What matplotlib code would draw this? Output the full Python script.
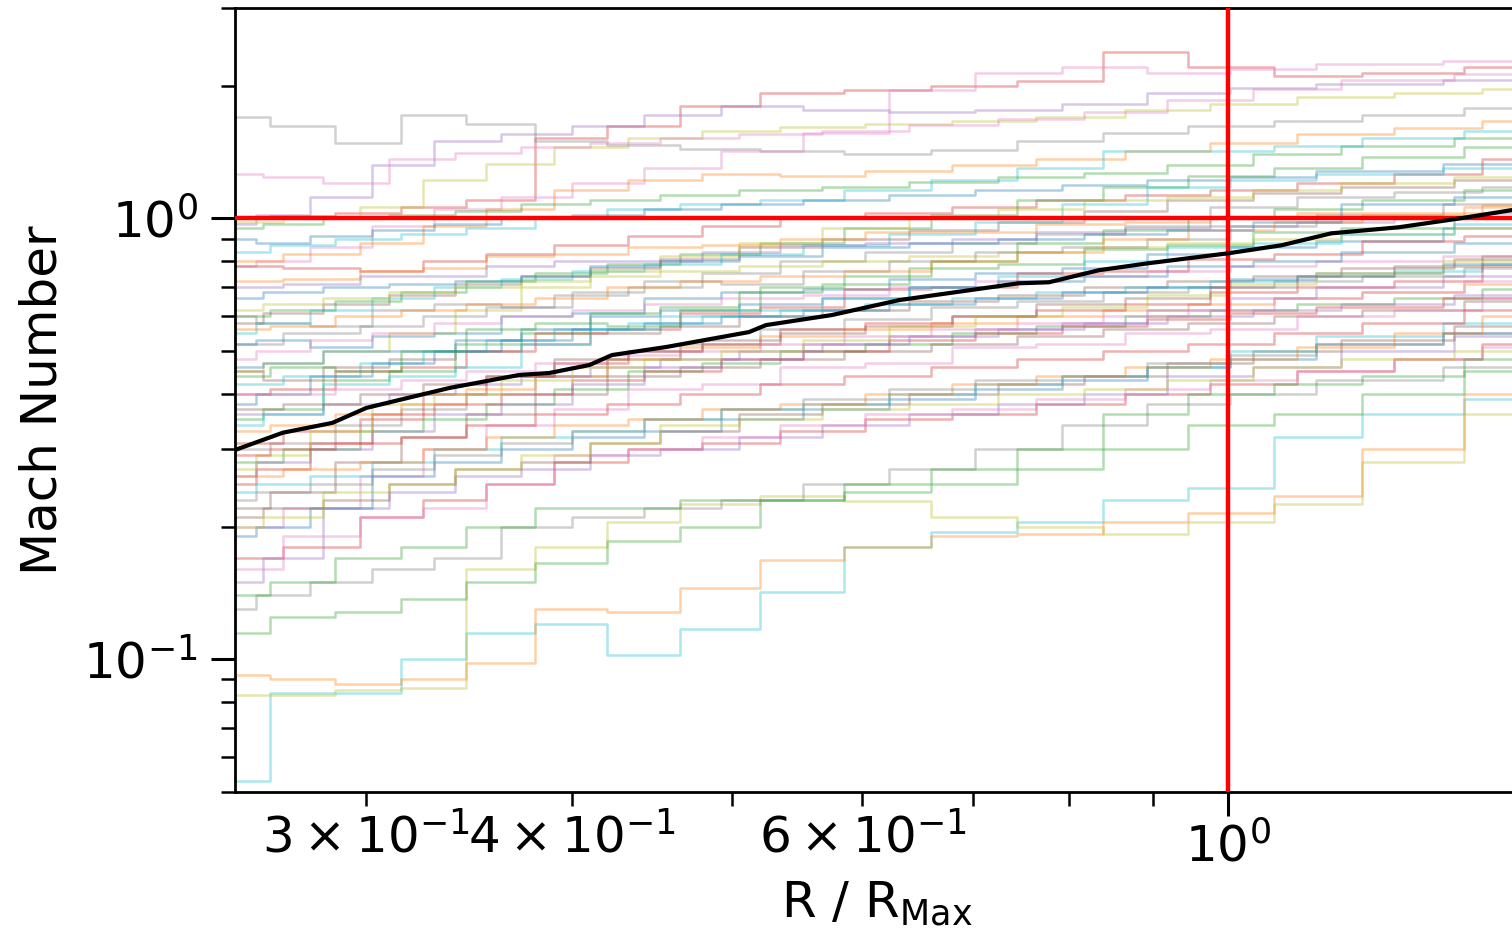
import matplotlib
matplotlib.use("Agg")
import matplotlib.pyplot as plt

# Radial sample positions (R / R_Max); runs were sampled on one of four grids
radius_grids = [
    [0.25, 0.275, 0.30, 0.33, 0.36, 0.40, 0.44, 0.49, 0.55, 0.62, 0.70, 0.79, 0.89, 1.00, 1.13, 1.28, 1.50],
    [0.25, 0.265, 0.29, 0.315, 0.345, 0.38, 0.42, 0.465, 0.52, 0.585, 0.66, 0.745, 0.84, 0.945, 1.06, 1.20, 1.50],
    [0.25, 0.285, 0.31, 0.34, 0.37, 0.41, 0.455, 0.505, 0.565, 0.64, 0.72, 0.81, 0.92, 1.03, 1.17, 1.35, 1.50],
    [0.25, 0.27, 0.295, 0.325, 0.355, 0.39, 0.43, 0.475, 0.535, 0.60, 0.68, 0.77, 0.865, 0.97, 1.10, 1.24, 1.50],
]

# Individual runs: fast group
runs_high = [
    [1.00, 1.01, 1.03, 1.06, 1.10, 1.52, 1.62, 1.80, 1.92, 1.96, 2.00, 2.05, 2.38, 2.20, 2.10, 2.14, 2.20],
    [0.97, 1.02, 1.12, 1.32, 1.50, 1.55, 1.62, 1.72, 1.80, 1.76, 1.74, 1.76, 1.82, 1.92, 1.98, 2.02, 2.06],
    [0.98, 1.00, 1.06, 1.22, 1.33, 1.45, 1.52, 1.58, 1.61, 1.64, 1.66, 1.70, 1.76, 1.82, 1.88, 1.92, 1.97],
    [1.70, 1.62, 1.48, 1.72, 1.64, 1.50, 1.47, 1.44, 1.42, 1.40, 1.43, 1.50, 1.56, 1.62, 1.66, 1.72, 1.78],
    [1.26, 1.24, 1.20, 1.36, 1.41, 1.45, 1.48, 1.52, 1.55, 1.58, 1.63, 1.68, 1.74, 1.86, 1.97, 2.06, 2.12],
    [0.78, 0.80, 0.86, 0.96, 1.05, 1.12, 1.20, 1.30, 1.42, 1.56, 1.96, 2.14, 2.20, 2.14, 2.18, 2.24, 2.28],
    [0.80, 0.83, 0.88, 0.96, 1.05, 1.16, 1.22, 1.26, 1.25, 1.28, 1.32, 1.36, 1.42, 1.48, 1.55, 1.60, 1.66],
    [0.95, 0.97, 1.00, 1.02, 1.04, 1.08, 1.10, 1.13, 1.16, 1.18, 1.21, 1.24, 1.27, 1.32, 1.40, 1.46, 1.52],
    [0.84, 0.87, 0.90, 0.92, 0.95, 1.00, 1.05, 1.08, 1.10, 1.16, 1.22, 1.30, 1.42, 1.42, 1.46, 1.52, 1.58],
    [0.90, 0.88, 0.91, 0.94, 0.97, 1.00, 1.02, 1.05, 1.08, 1.10, 1.13, 1.16, 1.19, 1.22, 1.24, 1.28, 1.33],
    [0.78, 0.77, 0.76, 0.80, 0.83, 0.87, 0.91, 0.96, 1.00, 1.03, 1.06, 1.10, 1.13, 1.16, 1.20, 1.26, 1.36],
    [0.58, 0.61, 0.64, 0.67, 0.71, 0.74, 0.77, 0.81, 0.86, 0.90, 0.94, 0.98, 1.04, 1.10, 1.14, 1.18, 1.22],
    [0.60, 0.62, 0.65, 0.68, 0.72, 0.75, 0.79, 0.83, 0.88, 0.95, 1.02, 1.10, 1.18, 1.25, 1.30, 1.38, 1.45],
    [0.55, 0.58, 0.62, 0.66, 0.70, 0.73, 0.76, 0.79, 0.83, 0.87, 0.92, 0.98, 1.08, 1.18, 1.22, 1.26, 1.30],
    [0.52, 0.55, 0.57, 0.60, 0.63, 0.67, 0.70, 0.75, 0.80, 0.84, 0.88, 0.92, 0.96, 1.06, 1.12, 1.15, 1.18],
    [0.45, 0.47, 0.50, 0.55, 0.62, 0.70, 0.76, 0.82, 0.88, 0.95, 1.00, 1.05, 1.10, 1.12, 1.16, 1.20, 1.24],
]
colors_high = [3, 4, 8, 7, 6, 6, 1, 2, 9, 0, 3, 5, 2, 9, 7, 8]
grids_high = [0, 1, 2, 0, 3, 1, 2, 3, 0, 1, 2, 3, 0, 1, 2, 3]

# Individual runs: intermediate group
runs_mid = [
    [0.52, 0.53, 0.51, 0.54, 0.55, 0.60, 0.61, 0.66, 0.68, 0.69, 0.73, 0.75, 0.77, 0.83, 0.86, 0.89, 0.95],
    [0.72, 0.73, 0.76, 0.77, 0.82, 0.83, 0.86, 0.87, 0.90, 0.93, 0.93, 0.97, 0.98, 1.00, 1.03, 1.03, 1.07],
    [0.35, 0.37, 0.43, 0.45, 0.52, 0.55, 0.61, 0.63, 0.68, 0.71, 0.77, 0.79, 0.85, 0.87, 0.93, 0.95, 1.00],
    [0.40, 0.41, 0.45, 0.46, 0.50, 0.55, 0.56, 0.61, 0.63, 0.69, 0.70, 0.75, 0.76, 0.81, 0.83, 0.89, 0.91],
    [0.70, 0.71, 0.74, 0.74, 0.78, 0.80, 0.80, 0.84, 0.87, 0.88, 0.90, 0.93, 0.95, 0.96, 0.98, 1.00, 1.03],
    [0.45, 0.43, 0.46, 0.48, 0.50, 0.52, 0.55, 0.57, 0.60, 0.62, 0.65, 0.67, 0.70, 0.72, 0.74, 0.77, 0.81],
    [0.48, 0.50, 0.53, 0.55, 0.58, 0.60, 0.62, 0.64, 0.66, 0.67, 0.70, 0.72, 0.74, 0.76, 0.78, 0.80, 0.82],
    [0.30, 0.31, 0.34, 0.37, 0.40, 0.44, 0.48, 0.52, 0.56, 0.59, 0.63, 0.65, 0.68, 0.70, 0.72, 0.74, 0.77],
    [0.62, 0.64, 0.66, 0.68, 0.70, 0.72, 0.74, 0.76, 0.78, 0.80, 0.82, 0.84, 0.86, 0.88, 0.90, 0.92, 0.95],
    [0.42, 0.44, 0.47, 0.50, 0.53, 0.56, 0.58, 0.60, 0.62, 0.64, 0.66, 0.68, 0.70, 0.72, 0.74, 0.76, 0.79],
    [0.38, 0.40, 0.44, 0.47, 0.50, 0.53, 0.56, 0.58, 0.60, 0.62, 0.64, 0.66, 0.68, 0.70, 0.73, 0.75, 0.79],
    [0.33, 0.34, 0.36, 0.38, 0.41, 0.44, 0.48, 0.51, 0.54, 0.56, 0.58, 0.60, 0.62, 0.64, 0.66, 0.68, 0.71],
    [0.28, 0.30, 0.33, 0.35, 0.38, 0.41, 0.45, 0.47, 0.50, 0.52, 0.55, 0.57, 0.60, 0.62, 0.64, 0.66, 0.69],
    [0.25, 0.27, 0.31, 0.36, 0.38, 0.40, 0.43, 0.45, 0.48, 0.50, 0.53, 0.55, 0.57, 0.59, 0.61, 0.63, 0.66],
    [0.36, 0.36, 0.38, 0.40, 0.42, 0.44, 0.46, 0.48, 0.50, 0.52, 0.54, 0.56, 0.58, 0.60, 0.62, 0.64, 0.67],
    [0.22, 0.24, 0.28, 0.32, 0.36, 0.40, 0.44, 0.46, 0.48, 0.50, 0.52, 0.54, 0.56, 0.58, 0.60, 0.62, 0.65],
    [0.20, 0.22, 0.26, 0.30, 0.34, 0.37, 0.41, 0.42, 0.46, 0.47, 0.51, 0.52, 0.55, 0.56, 0.60, 0.62, 0.66],
    [0.46, 0.47, 0.50, 0.50, 0.53, 0.56, 0.60, 0.62, 0.64, 0.66, 0.70, 0.72, 0.74, 0.78, 0.80, 0.84, 0.88],
    [0.60, 0.58, 0.57, 0.62, 0.64, 0.63, 0.68, 0.72, 0.71, 0.76, 0.80, 0.84, 0.86, 0.90, 0.96, 1.02, 1.08],
    [0.44, 0.46, 0.45, 0.50, 0.56, 0.58, 0.57, 0.62, 0.70, 0.74, 0.80, 0.88, 0.94, 1.00, 1.05, 1.10, 1.16],
    [0.34, 0.36, 0.42, 0.44, 0.46, 0.52, 0.56, 0.60, 0.62, 0.66, 0.70, 0.74, 0.80, 0.86, 0.88, 0.92, 0.97],
    [0.31, 0.33, 0.35, 0.40, 0.44, 0.47, 0.50, 0.52, 0.56, 0.58, 0.60, 0.62, 0.64, 0.68, 0.70, 0.72, 0.78],
    [0.26, 0.28, 0.30, 0.33, 0.36, 0.38, 0.42, 0.46, 0.48, 0.52, 0.54, 0.56, 0.58, 0.62, 0.66, 0.70, 0.74],
    [0.56, 0.57, 0.60, 0.62, 0.64, 0.66, 0.70, 0.72, 0.74, 0.76, 0.80, 0.84, 0.90, 0.94, 0.98, 1.02, 1.06],
    [0.66, 0.68, 0.70, 0.71, 0.72, 0.74, 0.78, 0.80, 0.82, 0.86, 0.88, 0.90, 0.92, 0.94, 0.98, 1.08, 1.12],
    [0.37, 0.38, 0.40, 0.42, 0.44, 0.48, 0.50, 0.53, 0.55, 0.57, 0.60, 0.64, 0.66, 0.70, 0.74, 0.78, 0.82],
    [0.40, 0.40, 0.41, 0.43, 0.45, 0.47, 0.49, 0.50, 0.52, 0.54, 0.56, 0.58, 0.60, 0.62, 0.66, 0.68, 0.72],
    [0.27, 0.29, 0.33, 0.38, 0.40, 0.43, 0.46, 0.48, 0.50, 0.53, 0.57, 0.60, 0.63, 0.67, 0.71, 0.75, 0.80],
]
colors_mid = [0, 1, 2, 3, 4, 5, 6, 7, 8, 9, 0, 1, 2, 3, 4, 5, 6, 0,
              7, 2, 9, 3, 4, 1, 0, 5, 6, 8]
grids_mid = [1, 2, 3, 0, 2, 3, 1, 0, 3, 2, 1, 0, 2, 1, 3, 0, 2, 3,
             1, 0, 3, 2, 1, 0, 3, 2, 0, 1]

# Individual runs: slow group
runs_low = [
    [0.053, 0.084, 0.084, 0.100, 0.115, 0.120, 0.102, 0.117, 0.142, 0.180, 0.194, 0.205, 0.230, 0.245, 0.320, 0.360, 0.390],
    [0.092, 0.090, 0.088, 0.090, 0.098, 0.130, 0.128, 0.145, 0.168, 0.180, 0.190, 0.192, 0.205, 0.215, 0.235, 0.300, 0.400],
    [0.083, 0.083, 0.085, 0.086, 0.160, 0.180, 0.205, 0.225, 0.235, 0.228, 0.210, 0.200, 0.192, 0.205, 0.225, 0.280, 0.360],
    [0.115, 0.125, 0.128, 0.137, 0.150, 0.165, 0.185, 0.200, 0.230, 0.240, 0.250, 0.270, 0.300, 0.340, 0.360, 0.400, 0.450],
    [0.13, 0.14, 0.15, 0.16, 0.17, 0.20, 0.21, 0.22, 0.23, 0.25, 0.27, 0.30, 0.34, 0.38, 0.40, 0.43, 0.46],
    [0.17, 0.18, 0.21, 0.23, 0.25, 0.28, 0.30, 0.31, 0.33, 0.35, 0.36, 0.38, 0.40, 0.42, 0.45, 0.48, 0.52],
    [0.15, 0.17, 0.22, 0.24, 0.26, 0.27, 0.29, 0.30, 0.32, 0.34, 0.36, 0.38, 0.40, 0.44, 0.46, 0.50, 0.54],
    [0.19, 0.20, 0.22, 0.26, 0.28, 0.30, 0.32, 0.33, 0.35, 0.37, 0.39, 0.41, 0.43, 0.46, 0.48, 0.52, 0.55],
    [0.16, 0.19, 0.21, 0.22, 0.25, 0.29, 0.30, 0.32, 0.34, 0.36, 0.37, 0.39, 0.41, 0.43, 0.45, 0.48, 0.51],
    [0.21, 0.22, 0.23, 0.25, 0.27, 0.28, 0.31, 0.33, 0.36, 0.38, 0.40, 0.42, 0.44, 0.47, 0.50, 0.53, 0.57],
    [0.14, 0.15, 0.17, 0.18, 0.20, 0.22, 0.22, 0.23, 0.23, 0.25, 0.27, 0.30, 0.36, 0.40, 0.42, 0.44, 0.48],
    [0.24, 0.25, 0.26, 0.28, 0.30, 0.32, 0.33, 0.35, 0.37, 0.38, 0.40, 0.42, 0.44, 0.46, 0.50, 0.54, 0.58],
    [0.26, 0.27, 0.28, 0.30, 0.32, 0.34, 0.35, 0.37, 0.38, 0.40, 0.42, 0.44, 0.46, 0.48, 0.51, 0.55, 0.60],
    [0.20, 0.21, 0.24, 0.25, 0.27, 0.29, 0.31, 0.34, 0.35, 0.37, 0.38, 0.40, 0.41, 0.43, 0.46, 0.48, 0.50],
    [0.29, 0.30, 0.31, 0.32, 0.34, 0.36, 0.38, 0.40, 0.42, 0.44, 0.46, 0.48, 0.50, 0.52, 0.55, 0.58, 0.62],
    [0.23, 0.24, 0.25, 0.27, 0.29, 0.31, 0.33, 0.35, 0.37, 0.39, 0.41, 0.43, 0.44, 0.47, 0.49, 0.52, 0.55],
]
colors_low = [9, 1, 8, 2, 7, 3, 4, 0, 6, 5, 2, 9, 1, 8, 3, 7]
grids_low = [0, 0, 0, 0, 1, 2, 3, 1, 2, 3, 0, 1, 2, 3, 0, 1]

# Ensemble average profile
mean_radius = [0.2502, 0.2672, 0.2864, 0.3003, 0.3146, 0.3372, 0.3717, 0.3877, 0.4099,
               0.4231, 0.4562, 0.5122, 0.5245, 0.5749, 0.6313, 0.7461, 0.7783, 0.8345,
               0.8944, 1.0, 1.0767, 1.1543, 1.2673, 1.3815, 1.4815, 1.50]
mean_mach = [0.2986, 0.3264, 0.3437, 0.3716, 0.3876, 0.4124, 0.4414, 0.4460, 0.4649,
             0.4898, 0.5107, 0.5522, 0.5727, 0.6035, 0.6523, 0.7124, 0.7162, 0.7627,
             0.7911, 0.8334, 0.8688, 0.9248, 0.9542, 1.0, 1.0426, 1.05]

tab10 = plt.get_cmap("tab10").colors

fig = plt.figure(figsize=(15.12, 9.4), dpi=100)
ax = fig.add_axes([235 / 1512, 1 - 792 / 940, (1519 - 235) / 1512, (792 - 8) / 940])

groups = ((runs_high, colors_high, grids_high),
          (runs_mid, colors_mid, grids_mid),
          (runs_low, colors_low, grids_low))
for runs, cols, grids in groups:
    for vals, c, g in zip(runs, cols, grids):
        ax.step(radius_grids[g], vals, where="mid", color=tab10[c], alpha=0.36, lw=1.8)

ax.axhline(1.0, color="red", lw=3.2, zorder=4)
ax.axvline(1.0, color="red", lw=3.2, zorder=4)
ax.plot(mean_radius, mean_mach, color="black", lw=3.0, zorder=5)

ax.set_xscale("log")
ax.set_yscale("log")
ax.set_xlim(0.25, 1.5)
ax.set_ylim(0.05, 3.0)

for s in ax.spines.values():
    s.set_linewidth(2.0)
ax.tick_params(which="major", length=17, width=2.2, labelsize=36)
ax.tick_params(which="minor", length=10, width=1.8, labelsize=36)
ax.tick_params(axis="x", which="both", pad=5)
ax.tick_params(axis="y", which="both", pad=10)

ax.set_xlabel(r"R / R$_{\mathrm{Max}}$", fontsize=36, labelpad=6)
ax.set_ylabel("Mach Number", fontsize=36, labelpad=12)

fig.savefig("out.png", dpi=100)
